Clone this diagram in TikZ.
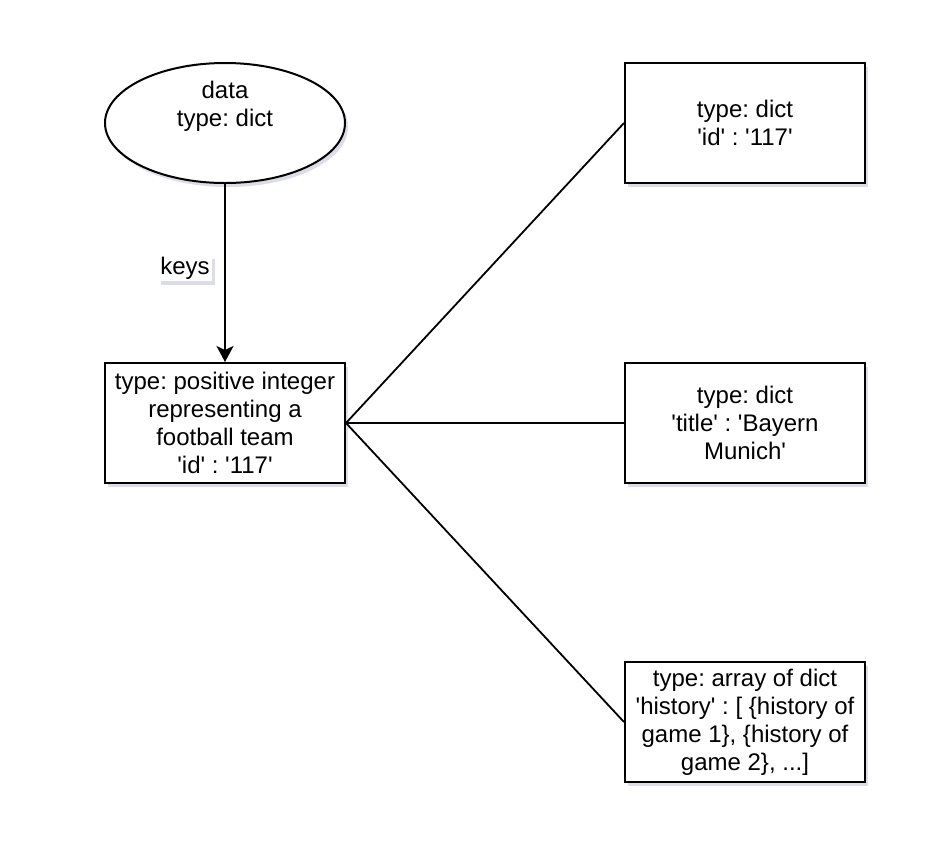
\documentclass[tikz,border=0pt]{standalone}
\usepackage{fontspec}
\setmainfont{Liberation Sans}
\usetikzlibrary{shapes.geometric,arrows.meta,shadows}
\definecolor{shadowc}{RGB}{120,120,165}
\newcommand{\sq}{\textquotesingle}
\frenchspacing
\begin{document}
\begin{tikzpicture}[x=1pt,y=-1pt,
  txt/.style={font=\fontsize{24}{28}\selectfont\frenchspacing, align=center},
  shad/.style={drop shadow={opacity=0.25, shadow xshift=3pt, shadow yshift=-4pt, fill=shadowc}},
  box/.style={txt, shad, draw=black, line width=2pt, fill=white, rectangle, minimum width=240pt, minimum height=120pt, inner sep=0pt},
  oval/.style={txt, shad, draw=black, line width=2pt, fill=white, ellipse, minimum width=240pt, minimum height=120pt, inner sep=0pt},
  conn/.style={draw=black, line width=1.8pt},
  lbl/.style={txt, shad, fill=white, inner sep=2pt}
]
\useasboundingbox (0,0) rectangle (950,844);
\node[oval] (data) at (225,123) {\raisebox{10pt}[0pt][0pt]{\begin{tabular}{@{}c@{}}data\\type: dict\end{tabular}}};
\node[box] (id) at (225,423) {type: positive integer\\representing a\\football team\\\sq id\sq{} : \sq 117\sq};
\node[box] (d1) at (745,123) {type: dict\\\sq id\sq{} : \sq 117\sq};
\node[box] (d2) at (745,423) {type: dict\\\sq title\sq{} : \sq Bayern\\Munich\sq};
\node[box] (d3) at (745,722) {type: array of dict\\\sq history\sq{} : [ \{history of\\game 1\}, \{history of\\game 2\}, ...]};
\draw[conn, -{Stealth[length=16pt,width=17pt,inset=4pt]}] (data.south) -- (id.north);
\node[lbl] (keys) at (185,268) {keys};
\draw[conn] (id.east) -- (d1.west);
\draw[conn] (id.east) -- (d2.west);
\draw[conn] (id.east) -- (d3.west);
\end{tikzpicture}
\end{document}
